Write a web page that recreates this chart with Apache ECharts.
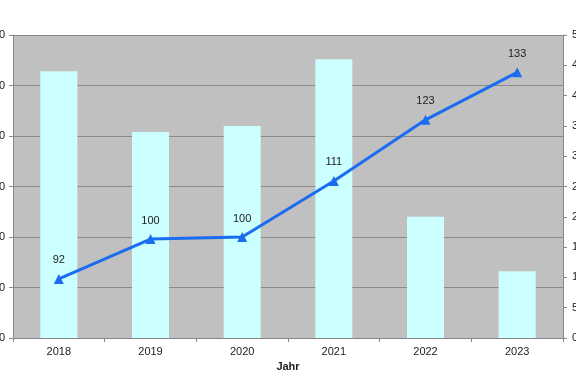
<!DOCTYPE html>
<html>
<head>
<meta charset="utf-8">
<script src="https://cdn.jsdelivr.net/npm/echarts@6/dist/echarts.min.js"></script>
<style>html,body{margin:0;padding:0;background:#fff}#c{width:576px;height:392px}</style>
</head>
<body>
<div id="c"></div>
<script>
const years = ['2018', '2019', '2020', '2021', '2022', '2023'];
const barValues = [44, 34, 35, 46, 20, 11];
const lineValues = [91.7, 99.6, 100.0, 111.1, 123.2, 132.6];
const leftTicks = { min: 80, max: 140, interval: 10 };
const rightTicks = { min: 0, max: 50, interval: 5 };
const xTitle = 'Jahr';

const chart = echarts.init(document.getElementById('c'), null, { renderer: 'canvas' });
chart.setOption({
  animation: false,
  backgroundColor: '#ffffff',
  textStyle: { fontFamily: 'Liberation Sans, Arial, sans-serif' },
  grid: { left: 13, right: 13, top: 35, bottom: 54, containLabel: false, outerBoundsMode: 'none',
          show: true, backgroundColor: '#c0c0c0', borderWidth: 0 },
  xAxis: {
    type: 'category', data: years, boundaryGap: true,
    axisLine: { lineStyle: { color: '#888888', width: 1 } },
    axisTick: { show: true, alignWithLabel: false, length: 4, lineStyle: { color: '#888888' } },
    axisLabel: { color: '#222222', fontSize: 11, margin: 8 },
    splitLine: { show: false }
  },
  yAxis: [
    {
      type: 'value', position: 'left', min: leftTicks.min, max: leftTicks.max, interval: leftTicks.interval,
      axisLine: { show: true, lineStyle: { color: '#888888' } },
      axisTick: { show: true, length: 4, lineStyle: { color: '#888888' } },
      axisLabel: { color: '#222222', fontSize: 11, margin: 8 },
      splitLine: { show: true, lineStyle: { color: '#8a8a8a', width: 1 } }
    },
    {
      type: 'value', position: 'right', min: rightTicks.min, max: rightTicks.max, interval: rightTicks.interval,
      axisLine: { show: true, lineStyle: { color: '#888888' } },
      axisTick: { show: true, length: 4, lineStyle: { color: '#888888' } },
      axisLabel: { color: '#222222', fontSize: 11, margin: 9 },
      splitLine: { show: false }
    }
  ],
  series: [
    {
      type: 'bar', yAxisIndex: 1, data: barValues, barWidth: 37,
      itemStyle: { color: '#ccffff' }, z: 2
    },
    {
      type: 'line', yAxisIndex: 0, data: lineValues,
      lineStyle: { color: '#1a6cf0', width: 3 },
      itemStyle: { color: '#1a6cf0' },
      symbol: 'triangle', symbolSize: 10, showAllSymbol: true,
      label: { show: true, position: 'top', distance: 8, color: '#222222', fontSize: 11,
               formatter: p => Math.round(p.value) },
      z: 5
    }
  ],
  graphic: [
    { type: 'text', x: 288, y: 367, style: { text: xTitle, fill: '#222222', font: 'bold 11px Liberation Sans, Arial, sans-serif',
      textAlign: 'center', textVerticalAlign: 'middle' } }
  ]
});
</script>
</body>
</html>
